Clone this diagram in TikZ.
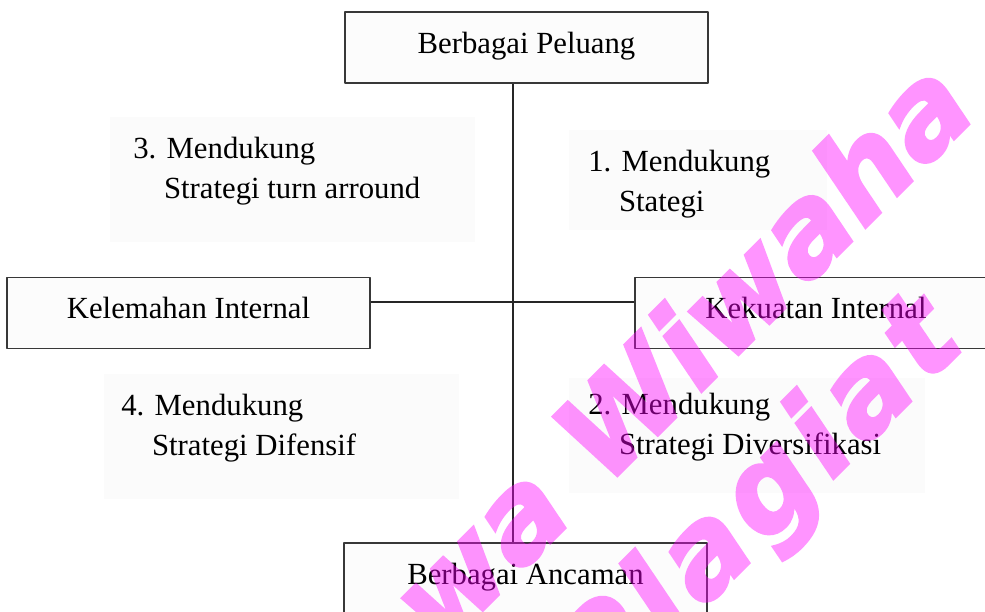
\documentclass[tikz,border=0pt]{standalone}
\usepackage{fontspec}
\setmainfont{Liberation Serif}
\newfontfamily\stampfont{DejaVu Sans}[FakeBold=2.5]
\newfontfamily\stampwide{DejaVu Sans}[FakeBold=2.5, LetterSpace=6]
\usetikzlibrary{positioning}
\definecolor{stampmagenta}{RGB}{255,0,255}
\newcommand\swotfont{\fontsize{17.5}{22.7}\selectfont}

\begin{document}
\begin{tikzpicture}[x=0.02cm, y=-0.02cm, line join=round,
  sbox/.style={draw=black!78, line width=1.1pt, fill=black!1, minimum width=7.26cm,
    minimum height=1.42cm, inner sep=0pt, font=\swotfont, text height=0.85em, text depth=0.17em},
  quad/.style={anchor=north west, inner sep=0pt, align=left, font=\swotfont},
  stamp/.style={anchor=base west, inner sep=0pt, rotate=45, text=stampmagenta,
    font=\stampfont\bfseries\itshape\fontsize{68}{68}\selectfont}]
\useasboundingbox (0,0) rectangle (985,612);
\clip (0,0) rectangle (985,612);
% faint text-box backgrounds
\fill[black!1.5] (110,117) rectangle (475,242);
\fill[black!1.5] (569,130) rectangle (827,230);
\fill[black!1.5] (104,374) rectangle (459,499);
\fill[black!1.5] (569,378) rectangle (925,493);
% the four sides
\node[sbox] (peluang) at (526.5,47.5) {Berbagai Peluang};
\node[sbox] (kelemahan) at (188.5,313) {Kelemahan Internal};
\node[sbox] (kekuatan) at (816,313) {Kekuatan Internal};
\node[sbox] (ancaman) at (525.5,578.5) {Berbagai Ancaman};
\coordinate (pusat) at (513,302);
\draw[black!85, line width=0.9pt] (peluang.south -| pusat) -- (ancaman.north -| pusat);
\draw[black!85, line width=0.9pt] (kelemahan.east |- pusat) -- (kekuatan.west |- pusat);
% quadrants
\node[quad] (kuadran3) at (133,137) {3. Mendukung\\\phantom{3.}\ Strategi turn arround};
\node[quad] (kuadran1) at (588,150) {1. Mendukung\\\phantom{1.}\ Stategi};
\node[quad] (kuadran4) at (121,394) {4. Mendukung\\\phantom{4.}\ Strategi Difensif};
\node[quad] (kuadran2) at (588,393) {2. Mendukung\\\phantom{2.}\ Strategi Diversifikasi};
% watermark
\begin{scope}[transparency group, opacity=0.42]
\node[stamp] (cap1) at (441,652) {wa Wiwaha};
\node[stamp, font=\stampwide\bfseries\itshape\fontsize{68}{68}\selectfont] (cap2) at (602,710) {Plagiat};
\end{scope}
\end{tikzpicture}
\end{document}
